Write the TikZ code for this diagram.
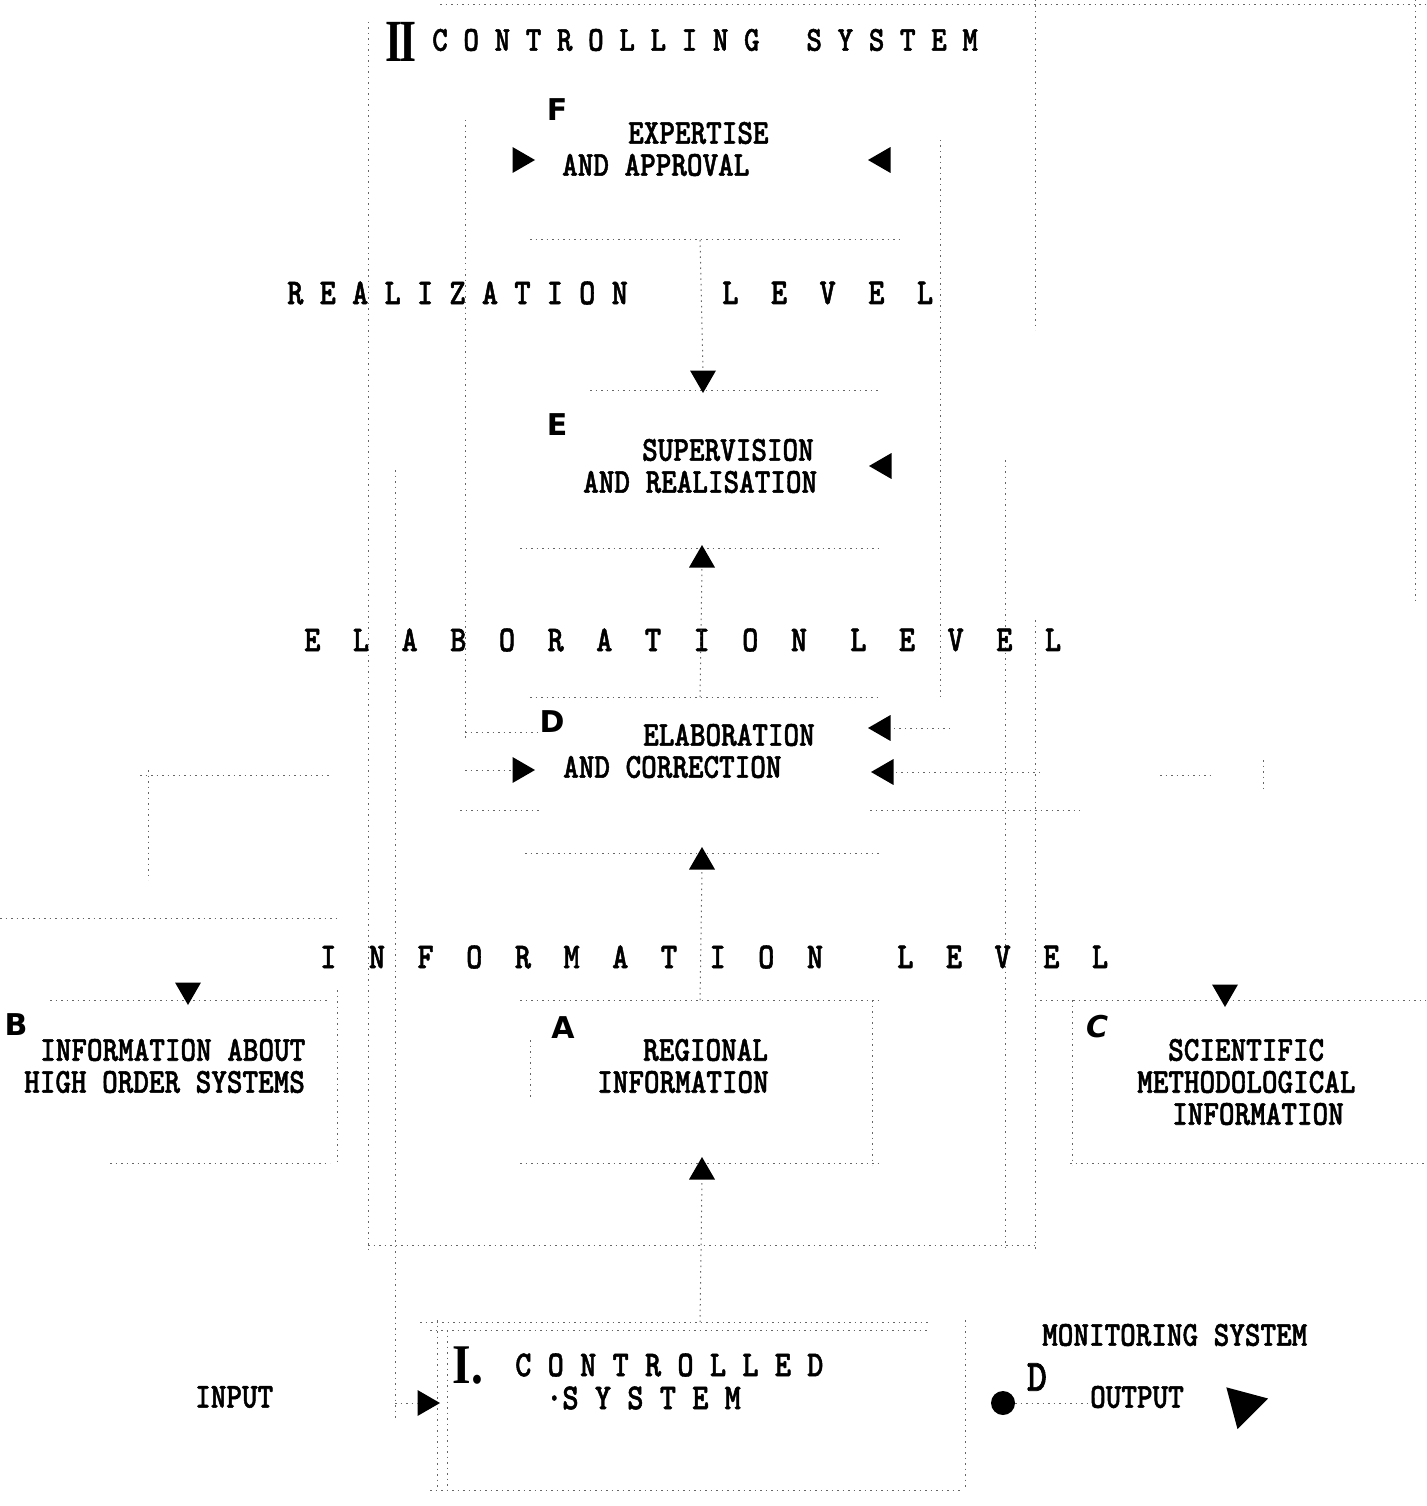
\documentclass[tikz,border=0pt]{standalone}
\usepackage{fontspec}
\usetikzlibrary{shapes.geometric}
\newfontfamily\twf{lmmonolt10-bold.otf}[FakeBold=1.5]
\newfontfamily\stampf{DejaVu Sans}
\newfontfamily\romf{Liberation Serif}
\newcommand\T[1]{\scalebox{1}[1.18]{#1}}
\begin{document}
\begin{tikzpicture}[x=1pt,y=-1pt,
  txt/.style={font=\twf\fontsize{29.7}{32}\selectfont, inner sep=0pt, anchor=west},
  hd/.style={font=\twf\fontsize{30.9}{32}\selectfont, inner sep=0pt, anchor=west},
  stamp/.style={font=\stampf\bfseries\fontsize{30}{30}\selectfont, inner sep=0pt},
  tri/.style={regular polygon, regular polygon sides=3, fill=black, draw=none, inner sep=0pt, minimum size=30pt},
  triU/.style={tri},
  triD/.style={tri, shape border rotate=180},
  triR/.style={tri, shape border rotate=-90},
  triL/.style={tri, shape border rotate=90},
  ln/.style={draw=black!60, line width=1pt, dash pattern=on 1.5pt off 4pt}]
\useasboundingbox (0,0) rectangle (1426,1506);

% ---------- faint frame lines ----------
\draw[ln] (368,22) -- (368,1250);
\draw[ln] (395,470) -- (395,1420);
\draw[ln] (465,120) -- (465,740);
\draw[ln] (940,140) -- (940,700);
\draw[ln] (1005,460) -- (1005,1250);
\draw[ln] (1035,0) -- (1035,330);
\draw[ln] (1035,620) -- (1035,1250);
\draw[ln] (1415,0) -- (1415,600);
\draw[ln] (440,5) -- (1426,5);
\draw[ln] (368,1245) -- (1035,1245);
% F box
\draw[ln] (530,240) -- (900,240);
% E box
\draw[ln] (590,390) -- (880,390);
\draw[ln] (520,548) -- (880,548);
% D box
\draw[ln] (530,697) -- (880,697);
\draw[ln] (460,810) -- (540,810);
\draw[ln] (870,810) -- (1080,810);
\draw[ln] (525,853) -- (880,853);
\draw[ln] (140,775) -- (330,775);
\draw[ln] (1160,775) -- (1210,775);
\draw[ln] (148,770) -- (148,880);
\draw[ln] (1263,760) -- (1263,790);
\draw[ln] (0,918) -- (340,918);
% B box
\draw[ln] (50,1000) -- (330,1000);
\draw[ln] (337,990) -- (337,1165);
\draw[ln] (110,1163) -- (330,1163);
% A box
\draw[ln] (520,1000) -- (880,1000);
\draw[ln] (872,1000) -- (872,1165);
\draw[ln] (520,1163) -- (880,1163);
\draw[ln] (530,1040) -- (530,1100);
% C box
\draw[ln] (1040,1000) -- (1426,1000);
\draw[ln] (1072,1000) -- (1072,1165);
\draw[ln] (1070,1163) -- (1426,1163);
% controlled system box
\draw[ln] (420,1322) -- (930,1322);
\draw[ln] (430,1330) -- (930,1330);
\draw[ln] (437,1320) -- (437,1490);
\draw[ln] (447,1330) -- (447,1490);
\draw[ln] (965,1320) -- (965,1490);
\draw[ln] (430,1490) -- (960,1490);

% ---------- headings ----------
\node[font=\romf\bfseries\fontsize{46}{46}\selectfont, inner sep=0pt] (rII) at (401,42) {\scalebox{0.95}[1.3]{I\kern-3pt I}};
\node[txt] (ctrl) at (432,40) {\T{C O N T R O L L I N G~~~S Y S T E M}};
\node[hd] (real1) at (287,293) {\T{R E A L I Z A T I O N}};
\node[hd] (real2) at (722,293) {\T{L~~E~~V~~E~~L}};
\node[hd] (elab1) at (304,640) {\T{E~~L~~A~~B~~O~~R~~A~~T~~I~~O~~N}};
\node[hd] (elab2) at (850,640) {\T{L~~E~~V~~E~~L}};
\node[hd] (info1) at (320,957) {\T{I~~N~~F~~O~~R~~M~~A~~T~~I~~O~~N}};
\node[hd] (info2) at (897,957) {\T{L~~E~~V~~E~~L}};

% ---------- box labels ----------
\node[stamp] (lF) at (557,110) {F};
\node[txt] (f1) at (628,133) {\T{EXPERTISE}};
\node[txt] (f2) at (562,165) {\T{AND APPROVAL}};
\node[stamp] (lE) at (557,425) {E};
\node[txt] (e1) at (642,450) {\T{SUPERVISION}};
\node[txt] (e2) at (583,482) {\T{AND REALISATION}};
\node[stamp] (lD) at (552,722) {D};
\node[txt] (d1) at (643,735) {\T{ELABORATION}};
\node[txt] (d2) at (563,767) {\T{AND CORRECTION}};
\node[stamp] (lB) at (16,1025) {B};
\node[txt] (b1) at (40,1050) {\T{INFORMATION ABOUT}};
\node[txt] (b2) at (24,1082) {\T{HIGH ORDER SYSTEMS}};
\node[stamp] (lA) at (563,1028) {A};
\node[txt] (a1) at (643,1050) {\T{REGIONAL}};
\node[txt] (a2) at (597,1082) {\T{INFORMATION}};
\node[stamp, font=\stampf\bfseries\itshape\fontsize{30}{30}\selectfont] (lC) at (1097,1027) {C};
\node[txt] (c1) at (1168,1050) {\T{SCIENTIFIC}};
\node[txt] (c2) at (1137,1082) {\T{METHODOLOGICAL}};
\node[txt] (c3) at (1172,1114) {\T{INFORMATION}};

% ---------- controlled system ----------
\node[font=\romf\bfseries\fontsize{56}{56}\selectfont, inner sep=0pt] (rI) at (468,1366) {\scalebox{0.85}[1]{I.}};
\node[hd] (cs1) at (515,1365) {\T{C O N T R O L L E D}};
\node[hd] (cs2) at (546,1398) {\T{·S Y S T E M}};
\node[txt] (inp) at (195,1397) {\T{INPUT}};
\node[txt] (mon) at (1042,1335) {\T{MONITORING SYSTEM}};
\node[font=\twf\fontsize{38}{38}\selectfont, inner sep=0pt] (lD2) at (1037,1377) {\T{D}};
\node[txt] (outp) at (1090,1397) {\T{OUTPUT}};
\node[circle, fill=black, inner sep=0pt, minimum size=24pt] (dot) at (1003,1403) {};
\node[tri, minimum size=50pt, shape border rotate=-75] (outarr) at (1244,1405) {};

% ---------- arrowheads ----------
\node[triR] (tFl) at (520,160) {};
\node[triL] (tFr) at (883,160) {};
\node[triD] (tEtop) at (703,378) {};
\node[triL] (tEr) at (884,466) {};
\node[triU] (tEbot) at (702,560) {};
\node[triL] (tDr1) at (883,728) {};
\node[triL] (tDr2) at (886,772) {};
\node[triR] (tDl) at (520,770) {};
\node[triU] (tDbot) at (702,862) {};
\node[triD] (tB) at (188,990) {};
\node[triD] (tC) at (1225,992) {};
\node[triU] (tAbot) at (702,1172) {};
\node[triR] (tin) at (425,1403) {};

% ---------- connectors ----------
\coordinate (fbot) at (700,240);
\coordinate (dtop) at (700,697);
\coordinate (atop) at (700,1000);
\coordinate (cstop) at (700,1322);
\coordinate (inl) at (395,1403);
\coordinate (dlft) at (465,732);
\coordinate (dlft2) at (465,770);
\coordinate (drt1) at (950,728);
\coordinate (drt2) at (1040,772);
\draw[ln] (fbot) -- (tEtop.north);
\draw[ln] (dtop) -- (tEbot.south);
\draw[ln] (atop) -- (tDbot.south);
\draw[ln] (cstop) -- (tAbot.south);
\draw[ln] (inl) -- (tin.west);
\draw[ln] (dot.east) -- (dot.east -| outp.west);
\draw[ln] (dlft) -- (dlft -| lD.west);
\draw[ln] (dlft2) -- (tDl.west);
\draw[ln] (drt1) -- (tDr1.east);
\draw[ln] (drt2) -- (tDr2.east);
\end{tikzpicture}
\end{document}
